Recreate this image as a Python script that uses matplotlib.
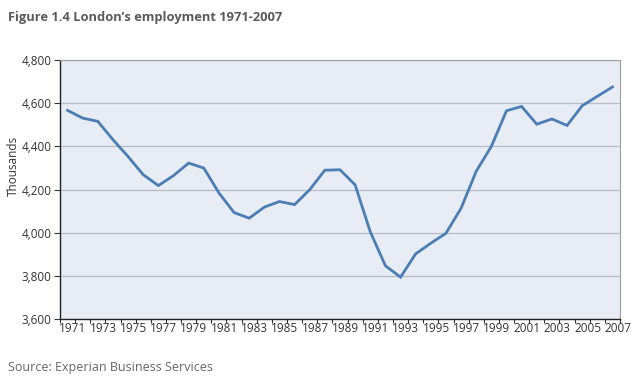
import numpy as np
import matplotlib.pyplot as plt
from matplotlib.ticker import FuncFormatter, FixedLocator

years = list(range(1971, 2008))
employment = [4567, 4531, 4516, 4431, 4353, 4269, 4219, 4265, 4323, 4300,
              4185, 4094, 4068, 4119, 4145, 4131, 4200, 4290, 4292, 4222,
              4005, 3848, 3795, 3903, 3952, 3998, 4114, 4285, 4400, 4565,
              4585, 4503, 4527, 4497, 4588, 4632, 4675]
label_years = years[::2]

plt.rcParams['font.family'] = ['Open Sans', 'DejaVu Sans']

fig = plt.figure(figsize=(6.4, 3.79), dpi=100)
ax = fig.add_axes([0.09375, 0.1575, 0.875, 0.6842])
ax.set_facecolor('#e8ecf4')

x = np.arange(len(years))
ax.plot(x, employment, color='#4a7eb5', linewidth=2.0, solid_joinstyle='miter')

ax.set_xlim(-0.5, len(years) - 0.5)
ax.set_ylim(3600, 4800)
ax.set_yticks(np.arange(3600, 4801, 200))
ax.yaxis.set_major_formatter(FuncFormatter(lambda v, p: f"{int(v):,}"))
ax.grid(axis='y', color='#b8bcc4', linewidth=0.9)
ax.set_axisbelow(True)

# tick marks at category boundaries, labels every other year
ax.xaxis.set_minor_locator(FixedLocator(np.arange(-0.5, len(years), 1)))
ax.tick_params(axis='x', which='minor', length=3, width=0.8, color='#333333')
idx = [years.index(y) for y in label_years]
ax.set_xticks([i + 0.35 for i in idx])
ax.set_xticklabels([str(y) for y in label_years])
ax.tick_params(axis='x', which='major', length=0, pad=2, labelsize=8.5, labelcolor='#333333')
ax.tick_params(axis='y', length=4, width=0.8, color='#333333', labelsize=8.5,
               labelcolor='#333333', pad=2)

for s in ['top', 'right']:
    ax.spines[s].set_color('#a0a0a0')
    ax.spines[s].set_linewidth(0.8)
for s in ['left', 'bottom']:
    ax.spines[s].set_color('#222222')
    ax.spines[s].set_linewidth(1.0)

ax.set_ylabel('Thousands', fontsize=8.5, color='#333333')
ax.yaxis.set_label_coords(-0.072, 0.59)

fig.text(0.0125, 0.955, "Figure 1.4 London\u2019s employment 1971-2007", fontsize=9.3,
         fontweight='bold', color='#5a5a5a', va='center', ha='left')
fig.text(0.0125, 0.03, "Source: Experian Business Services", fontsize=9,
         color='#666666', va='center', ha='left')

fig.savefig('out.png', dpi=100)
